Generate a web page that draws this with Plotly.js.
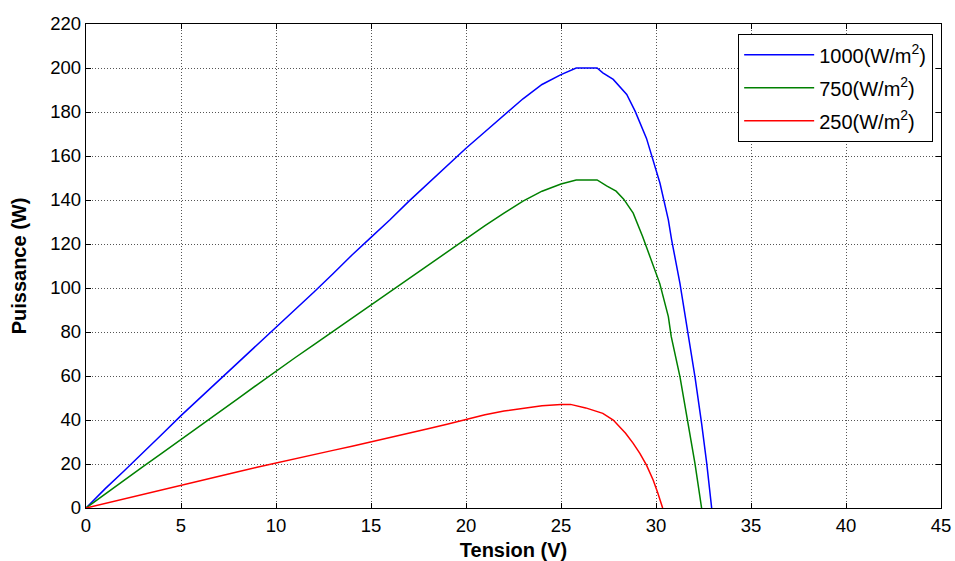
<!DOCTYPE html>
<html>
<head>
<meta charset="utf-8">
<script src="https://cdn.plot.ly/plotly-3.0.1.min.js"></script>
<style>html,body{margin:0;padding:0;background:#fff;}#chart{width:955px;height:561px;}</style>
</head>
<body>
<div id="chart"></div>
<script>
// Irradiance 1000 W/m2
const v1000 = [0,1,2,3,4,5,6,7,8,9,10,11,12,13,14,15,16,17,18,19,20,21,22,23,24,25,25.8,26.9,27.2,27.75,28.46,28.9,29.5,29.68,30.21,30.65,30.82,31.26,31.7,32.05,32.4,32.67,32.93];
const p1000 = [0,8.7,16.8,25,33.5,42,50,58,66.2,74.2,82.3,90.2,98.2,106.5,115,123,131,139.5,147.5,155.5,163.5,171,178.5,186,192.5,197,200,200,197.8,194.8,188,180.4,168,162.7,147.6,131,122,102.1,79.4,59.7,38.5,20.3,0];
// Irradiance 750 W/m2
const v750 = [0,1,2,3,4,5,6,7,8,9,10,11,12,13,14,15,16,17,18,19,20,21,22,23,24,25,25.8,26.9,27.4,27.9,28.3,28.8,29.3,29.7,30.2,30.65,30.8,31.26,31.6,32.05,32.4];
const p750 = [0,6.4,12.6,18.8,24.9,31,37.3,43.5,49.7,56,62.3,68.3,74.3,80.3,86.3,92.3,98.3,104.4,110.5,116.5,122.6,128.3,134,139.5,144,147.3,149.1,149.1,146.4,144,140.4,134,123.3,114.2,102,87,78,59.7,43,20.3,0];
// Irradiance 250 W/m2
const v250 = [0,1,2,3,4,5,6,7,8,9,10,11,12,13,14,15,16,17,18,19,20,21,22,23,24,25,25.5,26.3,27.2,27.75,28.4,28.8,29.15,29.5,29.85,30.1,30.35];
const p250 = [0,2.1,4.2,6.3,8.4,10.5,12.5,14.5,16.5,18.5,20.5,22.4,24.3,26.2,28.1,30,32,34,36,38.1,40.2,42.4,44.1,45.4,46.5,47.1,47.1,45.5,43,40,34,29.4,24.8,19.5,12.7,6.7,0];

const names = ['1000(W/m<sup>2</sup>)','750(W/m<sup>2</sup>)','250(W/m<sup>2</sup>)'];
const colors = ['#0000ff','#008000','#ff0000'];
const xs = [v1000, v750, v250];
const ys = [p1000, p750, p250];

const traces = xs.map((x,i)=>({
  x: x, y: ys[i], type:'scatter', mode:'lines', name: names[i],
  legendgroup: 'g'+i,
  line:{color:colors[i], width:1.5}
}));

const FONT = 'Liberation Sans, Arial, sans-serif';
const axisCommon = {
  showline:true, mirror:'ticks', linecolor:'#000', linewidth:1.3,
  ticks:'inside', ticklen:5, tickcolor:'#000',
  showgrid:true, gridcolor:'#555', griddash:'1px,2px', gridwidth:1,
  zeroline:false,
  tickfont:{family:FONT, size:18.5, color:'#000'}
};

const layout = {
  width:955, height:561,
  margin:{l:86, r:14, t:24, b:53},
  paper_bgcolor:'#fff', plot_bgcolor:'#fff',
  showlegend:true,
  xaxis: Object.assign({}, axisCommon, {
    range:[0,45], tickvals:[0,5,10,15,20,25,30,35,40,45],
    title:{text:'<b>Tension (V)</b>', standoff:8, font:{family:FONT, size:20, color:'#000'}}
  }),
  yaxis: Object.assign({}, axisCommon, {
    range:[0,220], tickvals:[0,20,40,60,80,100,120,140,160,180,200,220],
    title:{text:'<b>Puissance (W)</b>', standoff:18, font:{family:FONT, size:20, color:'#000'}}
  }),
  legend:{
    x:0.9906, xanchor:'right', y:0.979, yanchor:'top',
    bordercolor:'#000', borderwidth:1.2, bgcolor:'#fff',
    font:{family:FONT, size:20, color:'#000'},
    itemwidth:70, tracegroupgap:4
  }
};

Plotly.newPlot('chart', traces, layout, {displayModeBar:false, staticPlot:true});
</script>
</body>
</html>
